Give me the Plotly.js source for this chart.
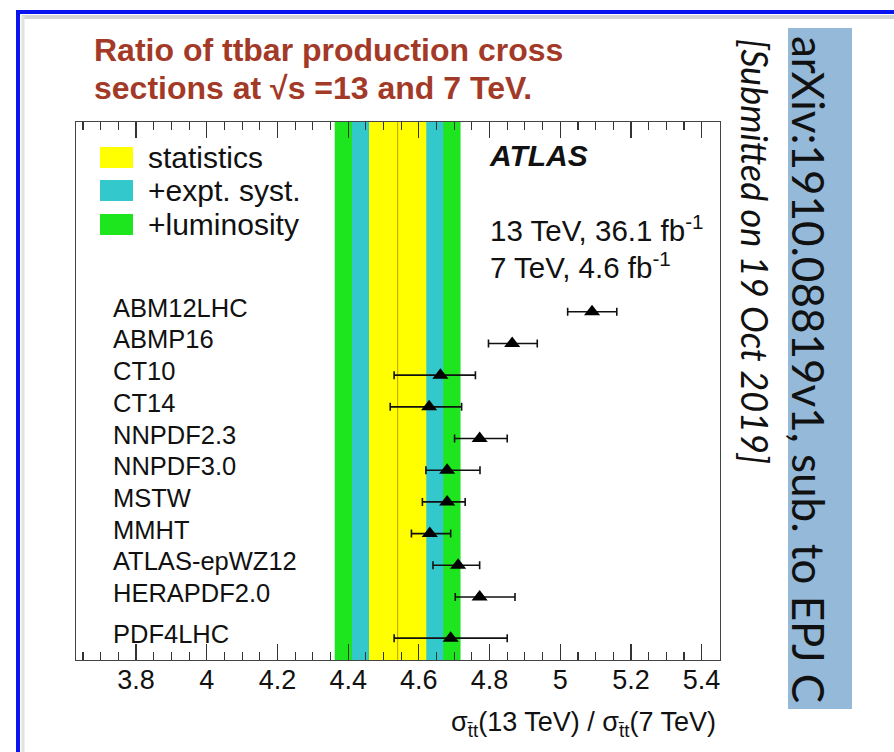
<!DOCTYPE html>
<html>
<head>
<meta charset="utf-8">
<script src="https://cdn.plot.ly/plotly-3.0.1.min.js"></script>
<style>
  html, body { margin: 0; padding: 0; background: #ffffff; }
  #chart { width: 894px; height: 752px; }
</style>
</head>
<body>
<div id="chart"></div>
<script>
// ---------------- data ----------------
var pdfNames = ['ABM12LHC', 'ABMP16', 'CT10', 'CT14', 'NNPDF2.3', 'NNPDF3.0', 'MSTW', 'MMHT', 'ATLAS-epWZ12', 'HERAPDF2.0', 'PDF4LHC'];
var rowPos   = [0, 1, 2, 3, 4, 5, 6, 7, 8, 9, 10.3];
var ratio    = [5.090, 4.864, 4.661, 4.629, 4.772, 4.680, 4.680, 4.631, 4.711, 4.772, 4.690];
var errUp    = [0.070, 0.071, 0.099, 0.092, 0.078, 0.093, 0.051, 0.059, 0.061, 0.100, 0.160];
var errDown  = [0.069, 0.067, 0.131, 0.110, 0.071, 0.060, 0.070, 0.052, 0.071, 0.069, 0.160];

var measCentre = 4.54;
var bandNames  = ['statistics', '+expt. syst.', '+luminosity'];
var bandHalf   = [0.081, 0.129, 0.178];
var bandColors = ['#ffff00', '#33c8cc', '#1ee61e'];

var xTickVals  = [3.8, 4.0, 4.2, 4.4, 4.6, 4.8, 5.0, 5.2, 5.4];

var titleLines = ['Ratio of ttbar production cross', 'sections at \u221As =13 and 7 TeV.'];
var arxivText  = 'arXiv:1910.08819v1, sub. to EPJ C';
var submitText = '[Submitted on 19 Oct 2019]';

// ---------------- layout helpers ----------------
var W = 894, H = 752;
var M = {l: 76, r: 174, t: 122, b: 92};
var PW = W - M.l - M.r, PH = H - M.t - M.b;
function px(xp) { return (xp - M.l) / PW; }
function py(yp) { return (H - M.b - yp) / PH; }

var FONT = 'Liberation Sans, Arial, Helvetica, sans-serif';

var shapes = [];
var annotations = [];

// blue slide frame with shadow
shapes.push({type: 'line', xref: 'paper', yref: 'paper', x0: px(22), x1: px(900), y0: py(17), y1: py(17),
             line: {color: '#d4d4d4', width: 4}});
shapes.push({type: 'line', xref: 'paper', yref: 'paper', x0: px(23), x1: px(23), y0: py(16), y1: py(760),
             line: {color: '#e2e2e2', width: 3}});
shapes.push({type: 'rect', xref: 'paper', yref: 'paper', x0: px(18), x1: px(910), y0: py(12), y1: py(770),
             line: {color: '#0a14f0', width: 4}});

// arXiv stamp background
shapes.push({type: 'rect', xref: 'paper', yref: 'paper', x0: px(788), x1: px(852), y0: py(28), y1: py(709),
             fillcolor: '#95b9d9', line: {width: 0}});

// bands (widest first), drawn with data x scale
for (var i = bandHalf.length - 1; i >= 0; i--) {
  shapes.push({type: 'rect', xref: 'x', yref: 'paper', layer: 'below',
               x0: measCentre - bandHalf[i], x1: measCentre + bandHalf[i], y0: 0, y1: 1,
               fillcolor: bandColors[i], line: {width: 0}});
}
shapes.push({type: 'line', xref: 'x', yref: 'paper', layer: 'below',
             x0: measCentre, x1: measCentre, y0: 0, y1: 1, line: {color: '#c89a00', width: 1}});

// legend boxes and texts
var legTop = [147, 180, 214];
for (var j = 0; j < bandNames.length; j++) {
  shapes.push({type: 'rect', xref: 'paper', yref: 'paper', x0: px(100), x1: px(133),
               y0: py(legTop[j]), y1: py(legTop[j] + 21), fillcolor: bandColors[j], line: {width: 0}});
  annotations.push({xref: 'paper', yref: 'paper', x: px(146), y: py(legTop[j] + 10), xanchor: 'left', yanchor: 'middle',
                    text: bandNames[j], showarrow: false, font: {family: FONT, size: 30, color: '#111'}});
}

// PDF labels
for (var k = 0; k < pdfNames.length; k++) {
  annotations.push({xref: 'paper', yref: 'y', x: px(111), y: rowPos[k], yshift: 4, xanchor: 'left', yanchor: 'middle',
                    text: pdfNames[k], showarrow: false, font: {family: FONT, size: 25.5, color: '#111'}});
}

// ATLAS texts
annotations.push({xref: 'paper', yref: 'paper', x: px(487), y: py(155), xanchor: 'left', yanchor: 'middle',
                  text: '<b><i>ATLAS</i></b>', showarrow: false, font: {family: FONT, size: 30, color: '#111'}});
annotations.push({xref: 'paper', yref: 'paper', x: px(488), y: py(228), xanchor: 'left', yanchor: 'middle',
                  text: '13 TeV, 36.1 fb<sup>-1</sup>', showarrow: false, font: {family: FONT, size: 29.5, color: '#111'}});
annotations.push({xref: 'paper', yref: 'paper', x: px(488), y: py(265), xanchor: 'left', yanchor: 'middle',
                  text: '7 TeV, 4.6 fb<sup>-1</sup>', showarrow: false, font: {family: FONT, size: 29.5, color: '#111'}});

// x axis title (right aligned)
annotations.push({xref: 'paper', yref: 'paper', x: px(718), y: py(724), xanchor: 'right', yanchor: 'middle',
                  text: '\u03C3<sub>t\u0304t</sub>(13 TeV) / \u03C3<sub>t\u0304t</sub>(7 TeV)', showarrow: false,
                  font: {family: FONT, size: 27, color: '#111'}});

// slide title
annotations.push({xref: 'paper', yref: 'paper', x: px(92), y: py(50), xanchor: 'left', yanchor: 'middle',
                  text: '<b>' + titleLines[0] + '</b>', showarrow: false, font: {family: FONT, size: 32, color: '#a33a28'}});
annotations.push({xref: 'paper', yref: 'paper', x: px(92), y: py(88), xanchor: 'left', yanchor: 'middle',
                  text: '<b>' + titleLines[1] + '</b>', showarrow: false, font: {family: FONT, size: 32, color: '#a33a28'}});

// vertical stamps
annotations.push({xref: 'paper', yref: 'paper', x: px(809), y: py(369), xanchor: 'center', yanchor: 'middle',
                  text: arxivText, textangle: 90, showarrow: false, font: {family: 'Lato, sans-serif', size: 44, color: '#111'}});
annotations.push({xref: 'paper', yref: 'paper', x: px(755), y: py(251), xanchor: 'center', yanchor: 'middle',
                  text: '<i>' + submitText + '</i>', textangle: 90, showarrow: false, font: {family: 'Lato, sans-serif', size: 36, color: '#111'}});

var trace = {
  type: 'scatter', mode: 'markers',
  x: ratio, y: rowPos,
  marker: {symbol: 'triangle-up', size: 14, color: '#000'},
  error_x: {type: 'data', symmetric: false, array: errUp, arrayminus: errDown,
            color: '#111', thickness: 1.6, width: 4},
  hoverinfo: 'skip', showlegend: false
};

var layout = {
  width: W, height: H,
  margin: M,
  paper_bgcolor: '#ffffff', plot_bgcolor: 'rgba(0,0,0,0)',
  showlegend: false,
  xaxis: {
    range: [3.630, 5.452], tickvals: xTickVals, ticktext: xTickVals.map(function (v) { return String(+v.toFixed(1)); }),
    ticks: 'inside', ticklen: 16, tickwidth: 1.2, tickcolor: '#333',
    minor: {dtick: 0.05, tick0: 3.8, ticks: 'inside', ticklen: 8, tickwidth: 1.2, tickcolor: '#333'},
    showline: true, linecolor: '#444', linewidth: 1.3, mirror: 'ticks',
    showgrid: false, zeroline: false,
    tickfont: {family: FONT, size: 27, color: '#111'}, ticklabelstandoff: -5
  },
  yaxis: {
    range: [10.99, -5.99], showticklabels: false, ticks: '',
    showline: true, linecolor: '#444', linewidth: 1.3, mirror: true,
    showgrid: false, zeroline: false
  },
  shapes: shapes,
  annotations: annotations
};

Plotly.newPlot('chart', [trace], layout, {displayModeBar: false, staticPlot: true});
</script>
</body>
</html>
